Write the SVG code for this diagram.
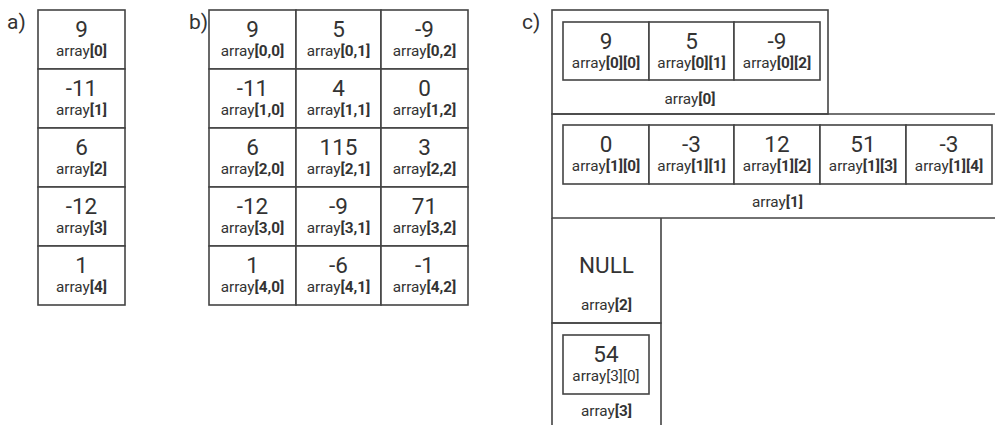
<svg xmlns="http://www.w3.org/2000/svg" width="995" height="425" viewBox="0 0 995 425">
<style>
text{font-family:Roboto,"Liberation Sans",sans-serif;fill:#333;text-anchor:middle}
.v{font-size:22.5px}
.l{font-size:15.3px}
.l tspan{font-weight:bold}
.t{font-size:21px;text-anchor:start}
.c{fill:#fff;stroke:#444;stroke-width:1.6}
.ln{fill:none;stroke:#444;stroke-width:1.6}
</style>
<rect width="995" height="425" fill="#fff"/>
<g id="labels">
<text class="t" x="7" y="29">a)</text>
<text class="t" x="189" y="29">b)</text>
<text class="t" x="522" y="29">c)</text>
</g>
<g id="a">
<g id="a0"><rect class="c" x="38" y="10" width="87" height="59"/><text class="v" x="81.5" y="37">9</text><text class="l" x="81.5" y="56">array<tspan>[0]</tspan></text></g>
<g id="a1"><rect class="c" x="38" y="69" width="87" height="59"/><text class="v" x="81.5" y="96">-11</text><text class="l" x="81.5" y="115">array<tspan>[1]</tspan></text></g>
<g id="a2"><rect class="c" x="38" y="128" width="87" height="59"/><text class="v" x="81.5" y="155">6</text><text class="l" x="81.5" y="174">array<tspan>[2]</tspan></text></g>
<g id="a3"><rect class="c" x="38" y="187" width="87" height="59"/><text class="v" x="81.5" y="214">-12</text><text class="l" x="81.5" y="233">array<tspan>[3]</tspan></text></g>
<g id="a4"><rect class="c" x="38" y="246" width="87" height="59"/><text class="v" x="81.5" y="273">1</text><text class="l" x="81.5" y="292">array<tspan>[4]</tspan></text></g>
</g>
<g id="b">
<g id="b00"><rect class="c" x="209" y="10" width="87" height="59"/><text class="v" x="252.5" y="37">9</text><text class="l" x="252.5" y="56">array<tspan>[0,0]</tspan></text></g>
<g id="b01"><rect class="c" x="296" y="10" width="85" height="59"/><text class="v" x="338.5" y="37">5</text><text class="l" x="338.5" y="56">array<tspan>[0,1]</tspan></text></g>
<g id="b02"><rect class="c" x="381" y="10" width="87" height="59"/><text class="v" x="424.5" y="37">-9</text><text class="l" x="424.5" y="56">array<tspan>[0,2]</tspan></text></g>
<g id="b10"><rect class="c" x="209" y="69" width="87" height="59"/><text class="v" x="252.5" y="96">-11</text><text class="l" x="252.5" y="115">array<tspan>[1,0]</tspan></text></g>
<g id="b11"><rect class="c" x="296" y="69" width="85" height="59"/><text class="v" x="338.5" y="96">4</text><text class="l" x="338.5" y="115">array<tspan>[1,1]</tspan></text></g>
<g id="b12"><rect class="c" x="381" y="69" width="87" height="59"/><text class="v" x="424.5" y="96">0</text><text class="l" x="424.5" y="115">array<tspan>[1,2]</tspan></text></g>
<g id="b20"><rect class="c" x="209" y="128" width="87" height="59"/><text class="v" x="252.5" y="155">6</text><text class="l" x="252.5" y="174">array<tspan>[2,0]</tspan></text></g>
<g id="b21"><rect class="c" x="296" y="128" width="85" height="59"/><text class="v" x="338.5" y="155">115</text><text class="l" x="338.5" y="174">array<tspan>[2,1]</tspan></text></g>
<g id="b22"><rect class="c" x="381" y="128" width="87" height="59"/><text class="v" x="424.5" y="155">3</text><text class="l" x="424.5" y="174">array<tspan>[2,2]</tspan></text></g>
<g id="b30"><rect class="c" x="209" y="187" width="87" height="59"/><text class="v" x="252.5" y="214">-12</text><text class="l" x="252.5" y="233">array<tspan>[3,0]</tspan></text></g>
<g id="b31"><rect class="c" x="296" y="187" width="85" height="59"/><text class="v" x="338.5" y="214">-9</text><text class="l" x="338.5" y="233">array<tspan>[3,1]</tspan></text></g>
<g id="b32"><rect class="c" x="381" y="187" width="87" height="59"/><text class="v" x="424.5" y="214">71</text><text class="l" x="424.5" y="233">array<tspan>[3,2]</tspan></text></g>
<g id="b40"><rect class="c" x="209" y="246" width="87" height="59"/><text class="v" x="252.5" y="273">1</text><text class="l" x="252.5" y="292">array<tspan>[4,0]</tspan></text></g>
<g id="b41"><rect class="c" x="296" y="246" width="85" height="59"/><text class="v" x="338.5" y="273">-6</text><text class="l" x="338.5" y="292">array<tspan>[4,1]</tspan></text></g>
<g id="b42"><rect class="c" x="381" y="246" width="87" height="59"/><text class="v" x="424.5" y="273">-1</text><text class="l" x="424.5" y="292">array<tspan>[4,2]</tspan></text></g>
</g>
<g id="c">
<g id="c0">
<rect class="c" x="552" y="10" width="276" height="104"/>
<text class="l" x="690" y="104">array<tspan>[0]</tspan></text>
<rect class="c" x="563" y="22" width="86" height="58"/><text class="v" x="606" y="49">9</text><text class="l" x="606" y="68">array<tspan>[0][0]</tspan></text>
<rect class="c" x="649" y="22" width="85" height="58"/><text class="v" x="691.5" y="49">5</text><text class="l" x="691.5" y="68">array<tspan>[0][1]</tspan></text>
<rect class="c" x="734" y="22" width="86" height="58"/><text class="v" x="777" y="49">-9</text><text class="l" x="777" y="68">array<tspan>[0][2]</tspan></text>
</g>
<g id="c1">
<path class="ln" d="M996 114H552V218H996"/>
<text class="l" x="777.5" y="207">array<tspan>[1]</tspan></text>
<rect class="c" x="563" y="125" width="86" height="59"/><text class="v" x="606" y="152">0</text><text class="l" x="606" y="171">array<tspan>[1][0]</tspan></text>
<rect class="c" x="649" y="125" width="85" height="59"/><text class="v" x="691.5" y="152">-3</text><text class="l" x="691.5" y="171">array<tspan>[1][1]</tspan></text>
<rect class="c" x="734" y="125" width="86" height="59"/><text class="v" x="777" y="152">12</text><text class="l" x="777" y="171">array<tspan>[1][2]</tspan></text>
<rect class="c" x="820" y="125" width="86" height="59"/><text class="v" x="863" y="152">51</text><text class="l" x="863" y="171">array<tspan>[1][3]</tspan></text>
<rect class="c" x="906" y="125" width="86" height="59"/><text class="v" x="949" y="152">-3</text><text class="l" x="949" y="171">array<tspan>[1][4]</tspan></text>
</g>
<g id="c2">
<path class="ln" d="M552 218V323H661V218"/>
<text class="v" x="606.5" y="273">NULL</text>
<text class="l" x="606.5" y="310">array<tspan>[2]</tspan></text>
</g>
<g id="c3">
<path class="ln" d="M552 426V323H661V426"/>
<rect class="c" x="563" y="335" width="86" height="59"/><text class="v" x="606" y="362">54</text><text class="l" x="606" y="381">array[3][0]</text>
<text class="l" x="606.5" y="416">array<tspan>[3]</tspan></text>
</g>
</g>
</svg>
